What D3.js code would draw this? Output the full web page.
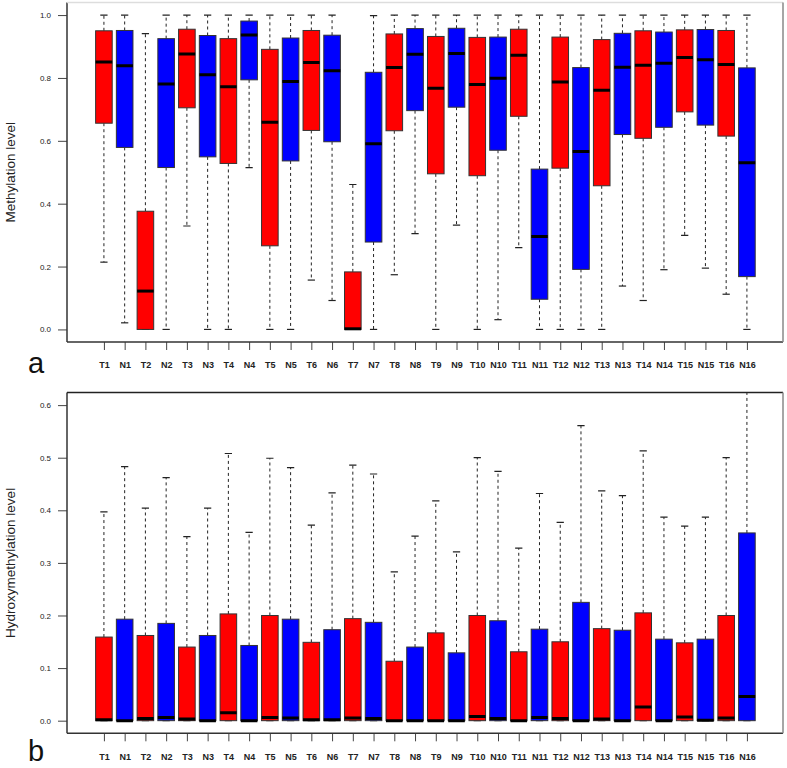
<!DOCTYPE html>
<html lang="en">
<head>
    <meta charset="UTF-8">
    <title>Methylation boxplots</title>
    <script src="https://d3js.org/d3.v7.min.js"></script>
    <style>
        body { margin: 0; background: #fff; }
        svg { font-family: Arial, "Liberation Sans", Helvetica, sans-serif; }
        .whisker { stroke: #222; stroke-width: 1; stroke-dasharray: 3,3; }
        .staple { stroke: #222; stroke-width: 1.2; }
        .box { stroke: #333; stroke-width: 1; }
        .median { stroke: #000; stroke-width: 3; }
        .ytick text { font-size: 8px; fill: #222; }
        .xtick text { font-size: 9px; font-weight: bold; fill: #222; }
        .tick line { stroke: #444; }
    </style>
</head>
<body>
    <svg width="787" height="768"></svg>

    <script>
        const samples = ["T1","N1","T2","N2","T3","N3","T4","N4","T5","N5","T6","N6","T7","N7","T8","N8",
                         "T9","N9","T10","N10","T11","N11","T12","N12","T13","N13","T14","N14","T15","N15","T16","N16"];

        // panel a : methylation level
        const methLow  = [0.214,0.021,0.000,0.000,0.329,0.000,0.000,0.515,0.000,0.000,0.157,0.092,0.000,0.000,0.174,0.305,
                          0.000,0.332,0.000,0.031,0.260,0.000,0.000,0.000,0.000,0.138,0.092,0.190,0.299,0.195,0.112,0.000];
        const methQ1   = [0.656,0.579,0.000,0.515,0.705,0.549,0.528,0.794,0.266,0.536,0.633,0.597,0.000,0.278,0.632,0.696,
                          0.495,0.707,0.489,0.570,0.678,0.096,0.513,0.191,0.457,0.620,0.608,0.643,0.692,0.650,0.615,0.168];
        const methMed  = [0.851,0.839,0.122,0.781,0.876,0.810,0.772,0.937,0.659,0.789,0.849,0.823,0.002,0.591,0.833,0.875,
                          0.767,0.878,0.779,0.799,0.872,0.296,0.787,0.566,0.761,0.834,0.840,0.847,0.865,0.858,0.843,0.530];
        const methQ3   = [0.950,0.951,0.376,0.925,0.955,0.935,0.925,0.981,0.891,0.927,0.951,0.936,0.183,0.818,0.940,0.957,
                          0.932,0.958,0.929,0.930,0.955,0.510,0.930,0.833,0.922,0.942,0.950,0.946,0.953,0.954,0.951,0.832];
        const methHigh = [1.000,1.000,0.941,1.000,1.000,1.000,1.000,1.000,1.000,1.000,1.000,1.000,0.461,0.998,1.000,1.000,
                          1.000,1.000,1.000,1.000,1.000,1.000,1.000,1.000,1.000,1.000,1.000,1.000,1.000,1.000,1.000,1.000];
        const methTicks = [0, 0.2, 0.4, 0.6, 0.8, 1.0];

        // panel b : hydroxymethylation level
        const hydroLow  = new Array(32).fill(0);
        const hydroQ1   = new Array(32).fill(0);
        const hydroMed  = [0.002,0.000,0.004,0.006,0.003,0.000,0.015,0.000,0.006,0.005,0.002,0.002,0.005,0.004,0.000,0.000,
                           0.000,0.000,0.008,0.004,0.000,0.006,0.004,0.000,0.003,0.000,0.026,0.000,0.007,0.001,0.005,0.046];
        const hydroQ3   = [0.159,0.193,0.162,0.185,0.140,0.162,0.203,0.143,0.200,0.193,0.149,0.173,0.194,0.187,0.113,0.140,
                           0.167,0.129,0.200,0.190,0.131,0.174,0.150,0.225,0.175,0.172,0.205,0.155,0.148,0.155,0.200,0.357];
        const hydroHigh = [0.397,0.483,0.404,0.462,0.350,0.404,0.508,0.358,0.499,0.481,0.372,0.433,0.486,0.469,0.283,0.351,
                           0.418,0.321,0.500,0.474,0.328,0.432,0.377,0.561,0.437,0.428,0.513,0.387,0.370,0.387,0.500,0.720];
        const hydroTicks = [0, 0.1, 0.2, 0.3, 0.4, 0.5, 0.6];

        const svg = d3.select("svg");
        const left = 67, right = 783;
        const x = d3.scaleLinear().domain([-0.78, 33.74]).range([left, right]);
        const boxW = x(0.8) - x(0);
        const stapleW = x(0.35) - x(0);

        function drawPanel(cfg) {
            const y = d3.scaleLinear().domain(cfg.domain).range([cfg.bottom, cfg.top]);
            const g = svg.append("g");

            g.append("clipPath").attr("id", cfg.id)
                .append("rect")
                .attr("x", left).attr("y", cfg.top)
                .attr("width", right - left).attr("height", cfg.bottom - cfg.top);

            const rows = samples.map((s, i) => ({
                name: s, pos: i + 1,
                lo: cfg.low[i], q1: cfg.q1[i], med: cfg.med[i], q3: cfg.q3[i], hi: cfg.high[i]
            }));

            const marks = g.append("g").attr("clip-path", `url(#${cfg.id})`)
                .selectAll(".bp")
                .data(rows)
                .enter()
                .append("g")
                .attr("class", "bp");

            // whiskers
            marks.append("line").attr("class", "whisker")
                .attr("x1", d => x(d.pos)).attr("x2", d => x(d.pos))
                .attr("y1", d => y(d.q3)).attr("y2", d => y(d.hi));
            marks.filter(d => d.q1 > d.lo).append("line").attr("class", "whisker")
                .attr("x1", d => x(d.pos)).attr("x2", d => x(d.pos))
                .attr("y1", d => y(d.q1)).attr("y2", d => y(d.lo));

            // staples
            marks.append("line").attr("class", "staple")
                .attr("x1", d => x(d.pos) - stapleW / 2).attr("x2", d => x(d.pos) + stapleW / 2)
                .attr("y1", d => y(d.hi)).attr("y2", d => y(d.hi));
            marks.append("line").attr("class", "staple")
                .attr("x1", d => x(d.pos) - stapleW / 2).attr("x2", d => x(d.pos) + stapleW / 2)
                .attr("y1", d => y(d.lo)).attr("y2", d => y(d.lo));

            // boxes
            marks.append("rect").attr("class", "box")
                .attr("x", d => x(d.pos) - boxW / 2)
                .attr("width", boxW)
                .attr("y", d => y(d.q3))
                .attr("height", d => y(d.q1) - y(d.q3))
                .attr("fill", d => d.name[0] === "T" ? "#ff0000" : "#0000ff");

            marks.append("line").attr("class", "median")
                .attr("x1", d => x(d.pos) - boxW / 2).attr("x2", d => x(d.pos) + boxW / 2)
                .attr("y1", d => y(d.med)).attr("y2", d => y(d.med));

            // axes
            const yAxis = g.append("g").attr("class", "ytick")
                .attr("transform", `translate(${left},0)`)
                .call(d3.axisLeft(y).tickValues(cfg.ticks).tickFormat(d3.format(".1f")).tickSize(9).tickPadding(7));
            yAxis.select(".domain").remove();

            const xAxis = g.append("g").attr("class", "xtick")
                .attr("transform", `translate(0,${cfg.bottom})`)
                .call(d3.axisBottom(x).tickValues(d3.range(1, 33)).tickFormat(i => samples[i - 1]).tickSize(8).tickPadding(12));
            xAxis.select(".domain").remove();

            // frame
            g.append("line").attr("x1", left).attr("x2", left).attr("y1", cfg.top).attr("y2", cfg.bottom)
                .attr("stroke", "#333").attr("stroke-width", 1.5);
            g.append("line").attr("x1", left).attr("x2", right).attr("y1", cfg.bottom).attr("y2", cfg.bottom)
                .attr("stroke", "#333").attr("stroke-width", 1.5);
            g.append("line").attr("x1", left).attr("x2", right).attr("y1", cfg.top).attr("y2", cfg.top)
                .attr("stroke", cfg.topColor).attr("stroke-width", 1.5);
            g.append("line").attr("x1", right).attr("x2", right).attr("y1", cfg.top).attr("y2", cfg.bottom)
                .attr("stroke", "#888").attr("stroke-width", 1.5);

            // titles
            g.append("text")
                .attr("transform", `translate(15,${(cfg.top + cfg.bottom) / 2}) rotate(-90)`)
                .attr("text-anchor", "middle")
                .style("font-size", "13.5px")
                .attr("fill", "#222")
                .text(cfg.label);

            g.append("text")
                .attr("x", 28).attr("y", cfg.letterY)
                .style("font-size", "29px")
                .attr("fill", "#111")
                .text(cfg.letter);
        }

        drawPanel({
            id: "clipA", top: 2.5, bottom: 342, domain: [-0.04, 1.04],
            low: methLow, q1: methQ1, med: methMed, q3: methQ3, high: methHigh,
            ticks: methTicks, label: "Methylation level", letter: "a", letterY: 373, topColor: "#ddd"
        });

        drawPanel({
            id: "clipB", top: 392.5, bottom: 733.3, domain: [-0.024, 0.624],
            low: hydroLow, q1: hydroQ1, med: hydroMed, q3: hydroQ3, high: hydroHigh,
            ticks: hydroTicks, label: "Hydroxymethylation level", letter: "b", letterY: 761, topColor: "#222"
        });
    </script>
</body>
</html>
